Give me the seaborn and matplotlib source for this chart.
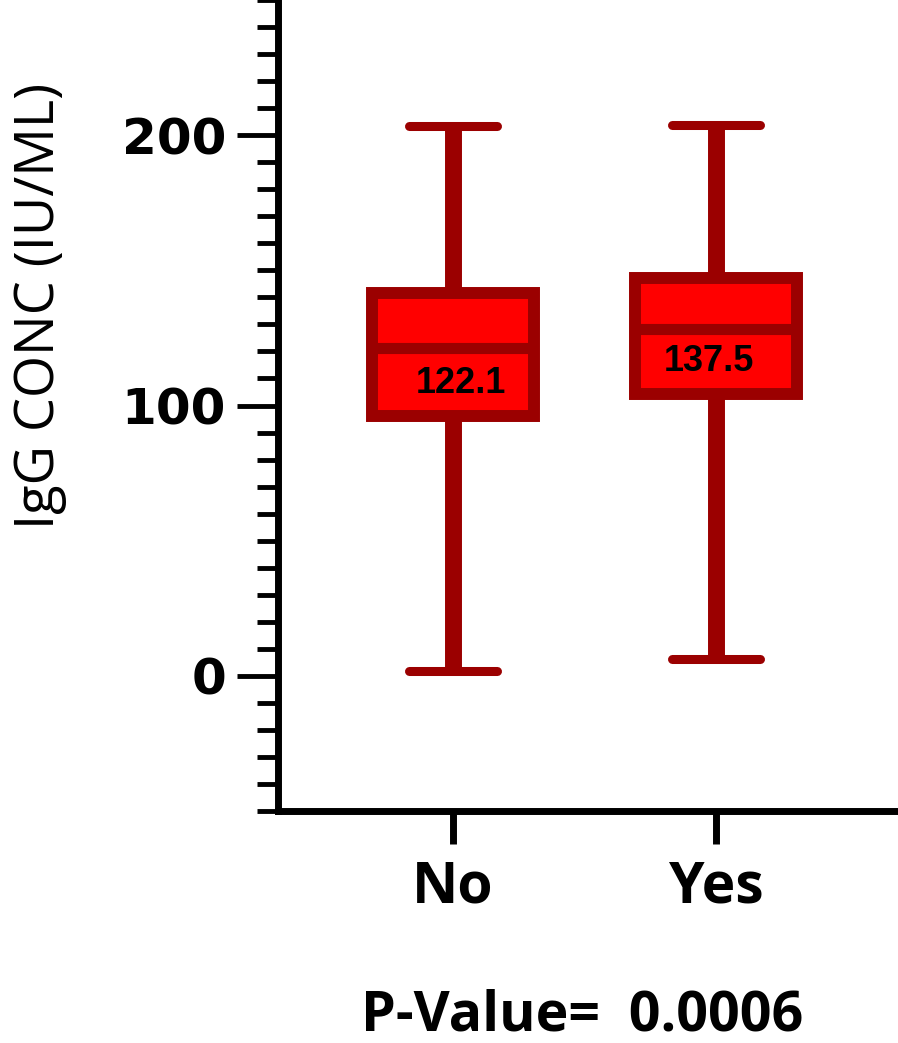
import pandas as pd
import numpy as np
import matplotlib
matplotlib.use('Agg')
import matplotlib.pyplot as plt
import seaborn as sns
from matplotlib.ticker import MultipleLocator

# Five-number summaries (min, Q1, median, Q3, max)
groups = ['No', 'Yes']
no_values = [1.8, 96.1, 121.3, 141.6, 203.3]
yes_values = [6.3, 104.2, 128.3, 147.1, 203.7]
box_labels = ['122.1', '137.5']
p_value_text = 'P-Value=  0.0006'

df = pd.DataFrame({
    'group': ['No'] * len(no_values) + ['Yes'] * len(yes_values),
    'value': no_values + yes_values,
})

sns.set_style('ticks')
plt.rcParams['text.color'] = 'black'
plt.rcParams['axes.labelcolor'] = 'black'
plt.rcParams['xtick.color'] = 'black'
plt.rcParams['ytick.color'] = 'black'

edge = '#9b0000'
fill = '#ff0000'

fig = plt.figure(figsize=(8.98, 10.43), dpi=100)
ax = fig.add_axes([0.3096, 0.2224, 0.6904, 0.7776])

sns.boxplot(data=df, x='group', y='value', order=groups, ax=ax,
            color=fill, linecolor=edge, width=0.616, whis=(0, 100),
            saturation=1, fliersize=0, capwidths=0.335,
            boxprops={'linewidth': 8.6, 'edgecolor': edge, 'facecolor': fill},
            whiskerprops={'linewidth': 12.2, 'color': edge},
            capprops={'linewidth': 6.5, 'color': edge},
            medianprops={'linewidth': 8, 'color': edge})

# annotation inside each box (offset from the category centre)
label_dx = [0.03, -0.027]
label_y = [108.3, 116.1]
for i, txt in enumerate(box_labels):
    ax.text(i + label_dx[i], label_y[i], txt, ha='center', va='center',
            fontsize=26, fontweight='bold', family='Liberation Sans',
            color='black')

ax.set_xlim(-0.665, 1.692)
ax.set_ylim(-50, 250)
ax.yaxis.set_major_locator(MultipleLocator(100))
ax.yaxis.set_minor_locator(MultipleLocator(10))

for side in ['top', 'right']:
    ax.spines[side].set_visible(False)
for side in ['left', 'bottom']:
    ax.spines[side].set_linewidth(5)
    ax.spines[side].set_color('black')

ax.tick_params(axis='y', which='major', length=29.5, width=3.5, pad=8,
               labelsize=36, colors='black')
ax.tick_params(axis='y', which='minor', length=15, width=3.5, colors='black')
ax.tick_params(axis='x', which='major', length=24, width=5, pad=10,
               labelsize=41, colors='black')
for lab in ax.get_yticklabels():
    lab.set_fontfamily('DejaVu Sans')
    lab.set_fontweight('bold')
for lab in ax.get_xticklabels():
    lab.set_fontfamily('Open Sans')
    lab.set_fontweight('bold')

ax.set_xlabel('')
ax.set_ylabel('IgG CONC (IU/ML)', fontsize=39, family='Open Sans', color='black')
ax.yaxis.set_label_coords(-0.340, 0.623)

fig.text(0.648, 0.026, p_value_text, ha='center', va='center', fontsize=40,
         fontweight='bold', family='Open Sans', color='black')

fig.savefig('out.png', dpi=100)
